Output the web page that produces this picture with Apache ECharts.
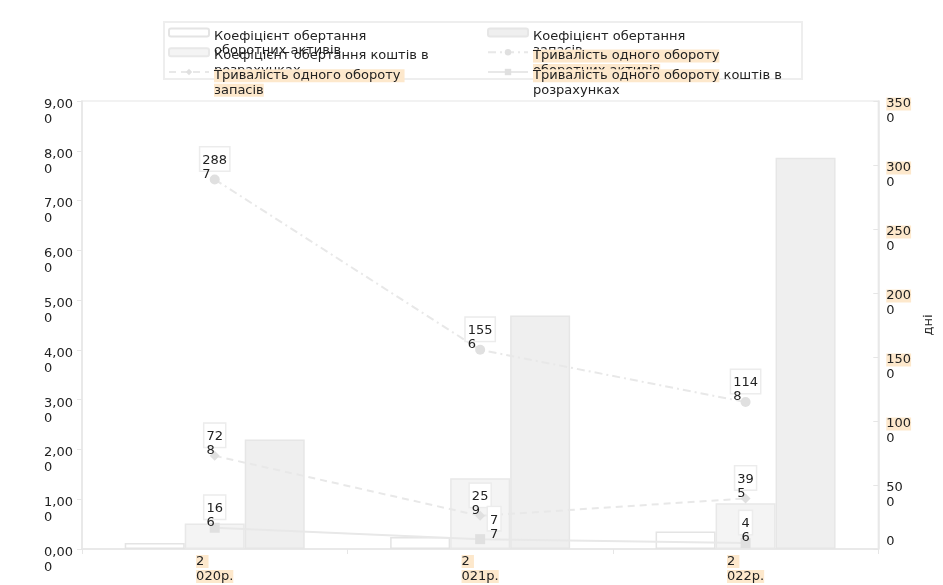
<!DOCTYPE html>
<html>
<head>
<meta charset="utf-8">
<script src="https://cdn.jsdelivr.net/npm/echarts@6/dist/echarts.min.js"></script>
<style>
  html, body { margin: 0; padding: 0; background: #fff; }
  #chart { width: 943px; height: 585px; }
</style>
</head>
<body>
<div id="chart"></div>
<script>
// Categories (years) and how their labels break over two lines
const categories = ['2020р.', '2021р.', '2022р.'];
const categoryLines = [['2 ', '020р.'], ['2 ', '021р.'], ['2 ', '022р.']];

// Turnover ratios (left axis)
const turnoverCurrentAssets = [0.12, 0.24, 0.35];
const turnoverReceivables = [0.51, 1.42, 0.92];
const turnoverInventory = [2.20, 4.69, 7.86];

// Duration of one turnover, days (right axis)
const daysCurrentAssets = [288.7, 155.6, 114.8];
const daysInventory = [72.8, 25.9, 39.5];
const daysReceivables = [16.6, 7.7, 4.6];

// Tick labels
const leftTickLabels = [
  ['0,00', '0'], ['1,00', '0'], ['2,00', '0'], ['3,00', '0'], ['4,00', '0'],
  ['5,00', '0'], ['6,00', '0'], ['7,00', '0'], ['8,00', '0'], ['9,00', '0']
];
const rightTickLabels = [
  ['0'], ['50', '0'], ['100', '0'], ['150', '0'], ['200', '0'],
  ['250', '0'], ['300', '0'], ['350', '0']
];
const rightTickMarked = [false, false, true, true, true, true, true, true];

// Series names and their legend captions
const names = {
  kOA: 'Коефіцієнт обертання оборотних активів',
  kZ: 'Коефіцієнт обертання запасів',
  kK: 'Коефіцієнт обертання коштів в розрахунках',
  tOA: 'Тривалість одного обороту оборотних активів',
  tZ: 'Тривалість одного обороту запасів',
  tK: 'Тривалість одного обороту коштів в розрахунках'
};
const legendOrder = [names.kOA, names.kZ, names.kK, names.tOA, names.tZ, names.tK];
const legendCaptions = [
  'Коефіцієнт обертання\nоборотних активів',
  'Коефіцієнт обертання\nзапасів',
  'Коефіцієнт обертання коштів в\nрозрахунках',
  '{h|Тривалість одного обороту}\n{h|оборотних активів}',
  '{h|Тривалість одного обороту }\n{h|запасів}',
  '{h|Тривалість одного обороту} коштів в\nрозрахунках'
];

const FONT = 'DejaVu Sans';
const INK = '#222';
const MARK = '#fde8cc';
const RULE = '#e6e6e6';

const chart = echarts.init(document.getElementById('chart'));

const baseText = { fontFamily: FONT, fontSize: 13, color: INK };

function dayLabel(extra) {
  return Object.assign({
    show: true,
    position: 'top',
    distance: 4,
    formatter: p => {
      const parts = String(p.value).split('.');
      return '{t|' + parts[0] + '}\n{r|' + (parts[1] || '') + '}';
    },
    backgroundColor: '#fff',
    borderColor: '#ececec',
    borderWidth: 1.5,
    padding: [6, 2, 3, 2],
    height: 14,
    lineHeight: 14,
    fontFamily: FONT,
    fontSize: 13,
    color: INK,
    rich: {
      t: Object.assign({ lineHeight: 14 }, baseText),
      r: Object.assign({ lineHeight: 14, align: 'left' }, baseText)
    }
  }, extra || {});
}

function barSeries(name, data, fill, border) {
  return {
    name, type: 'bar', yAxisIndex: 0, data,
    barWidth: 60, barGap: '0%',
    itemStyle: { color: fill, borderColor: border, borderWidth: 1.5 }
  };
}

function lineSeries(name, data, symbol, dash, labelTweaks) {
  return {
    name, type: 'line', yAxisIndex: 1,
    data: data.map((v, i) => labelTweaks && labelTweaks[i]
      ? { value: v, label: dayLabel(labelTweaks[i]) } : v),
    symbol, symbolSize: 10,
    itemStyle: { color: '#e0e0e0' },
    lineStyle: { color: '#e8e8e8', width: 2, type: dash },
    label: dayLabel(),
    z: 3
  };
}

const option = {
  animation: false,
  backgroundColor: '#fff',
  textStyle: { fontFamily: FONT },
  grid: {
    left: 82, right: 58, top: 101, bottom: 36,
    show: true, borderColor: '#eeeeee', borderWidth: 1.5
  },
  // frame around the legend rows
  graphic: [{
    type: 'rect', left: 163, top: 21, z: 0, silent: true,
    shape: { width: 638, height: 57 },
    style: { fill: '#fff', stroke: '#eeeeee', lineWidth: 2 }
  }],
  legend: {
    left: 163, top: 26, width: 655,
    padding: [1, 5, 0, 5],
    itemGap: -10.5, itemWidth: 40, itemHeight: 8,
    data: legendOrder,
    formatter: name => legendCaptions[legendOrder.indexOf(name)],
    textStyle: Object.assign({
      width: 283.5, height: 9, lineHeight: 14.5, padding: [2, 0, 0, 0],
      rich: { h: Object.assign({ backgroundColor: MARK, lineHeight: 14.5 }, baseText) }
    }, baseText)
  },
  xAxis: {
    type: 'category',
    data: categories,
    axisLine: { lineStyle: { color: RULE, width: 1.5 } },
    axisTick: { show: true, length: 5, lineStyle: { color: RULE } },
    axisLabel: {
      margin: 5, interval: 0,
      formatter: (v, i) => '{h|' + categoryLines[i][0] + '}\n{h|' + categoryLines[i][1] + '}',
      rich: { h: Object.assign({ backgroundColor: MARK, lineHeight: 15, align: 'left' }, baseText) }
    }
  },
  yAxis: [
    {
      type: 'value', position: 'left', min: 0, max: 9, interval: 1,
      axisLine: { show: true, lineStyle: { color: RULE, width: 1.5 } },
      axisTick: { show: true, length: 5, lineStyle: { color: RULE } },
      splitLine: { show: false },
      axisLabel: {
        margin: 9,
        formatter: v => {
          const t = leftTickLabels[Math.round(v)];
          return '{s| }\n{a|' + t[0] + '}\n{b|' + t[1] + '}';
        },
        rich: {
          s: Object.assign({ lineHeight: 22 }, baseText),
          a: Object.assign({ lineHeight: 15 }, baseText),
          b: Object.assign({ lineHeight: 15, align: 'left' }, baseText)
        }
      }
    },
    {
      type: 'value', position: 'right', min: 0, max: 350, interval: 50,
      name: 'дні', nameLocation: 'middle', nameGap: 40,
      nameTextStyle: baseText,
      axisLine: { show: true, lineStyle: { color: RULE, width: 1.5 } },
      axisTick: { show: true, inside: true, length: 5, lineStyle: { color: RULE } },
      splitLine: { show: false },
      axisLabel: {
        margin: 8,
        formatter: v => {
          const i = Math.round(v / 50);
          const t = rightTickLabels[i];
          if (t.length === 1) return '{p|' + t[0] + '}\n{s| }';
          const head = rightTickMarked[i] ? '{h|' + t[0] + '}' : '{p|' + t[0] + '}';
          return '{g| }\n' + head + '\n{p|' + t[1] + '}';
        },
        rich: {
          g: Object.assign({ lineHeight: 21 }, baseText),
          s: Object.assign({ lineHeight: 15 }, baseText),
          p: Object.assign({ lineHeight: 15 }, baseText),
          h: Object.assign({ lineHeight: 15, backgroundColor: MARK }, baseText)
        }
      }
    }
  ],
  series: [
    barSeries(names.kOA, turnoverCurrentAssets, '#ffffff', '#e4e4e4'),
    barSeries(names.kK, turnoverReceivables, '#f4f4f4', '#e8e8e8'),
    barSeries(names.kZ, turnoverInventory, '#efefef', '#e6e6e6'),
    lineSeries(names.tOA, daysCurrentAssets, 'circle', [8, 4, 2, 4]),
    lineSeries(names.tZ, daysInventory, 'diamond', [7, 5]),
    lineSeries(names.tK, daysReceivables, 'rect', 'solid', [null, { offset: [14, 0] }, null])
  ]
};

chart.setOption(option);
</script>
</body>
</html>
